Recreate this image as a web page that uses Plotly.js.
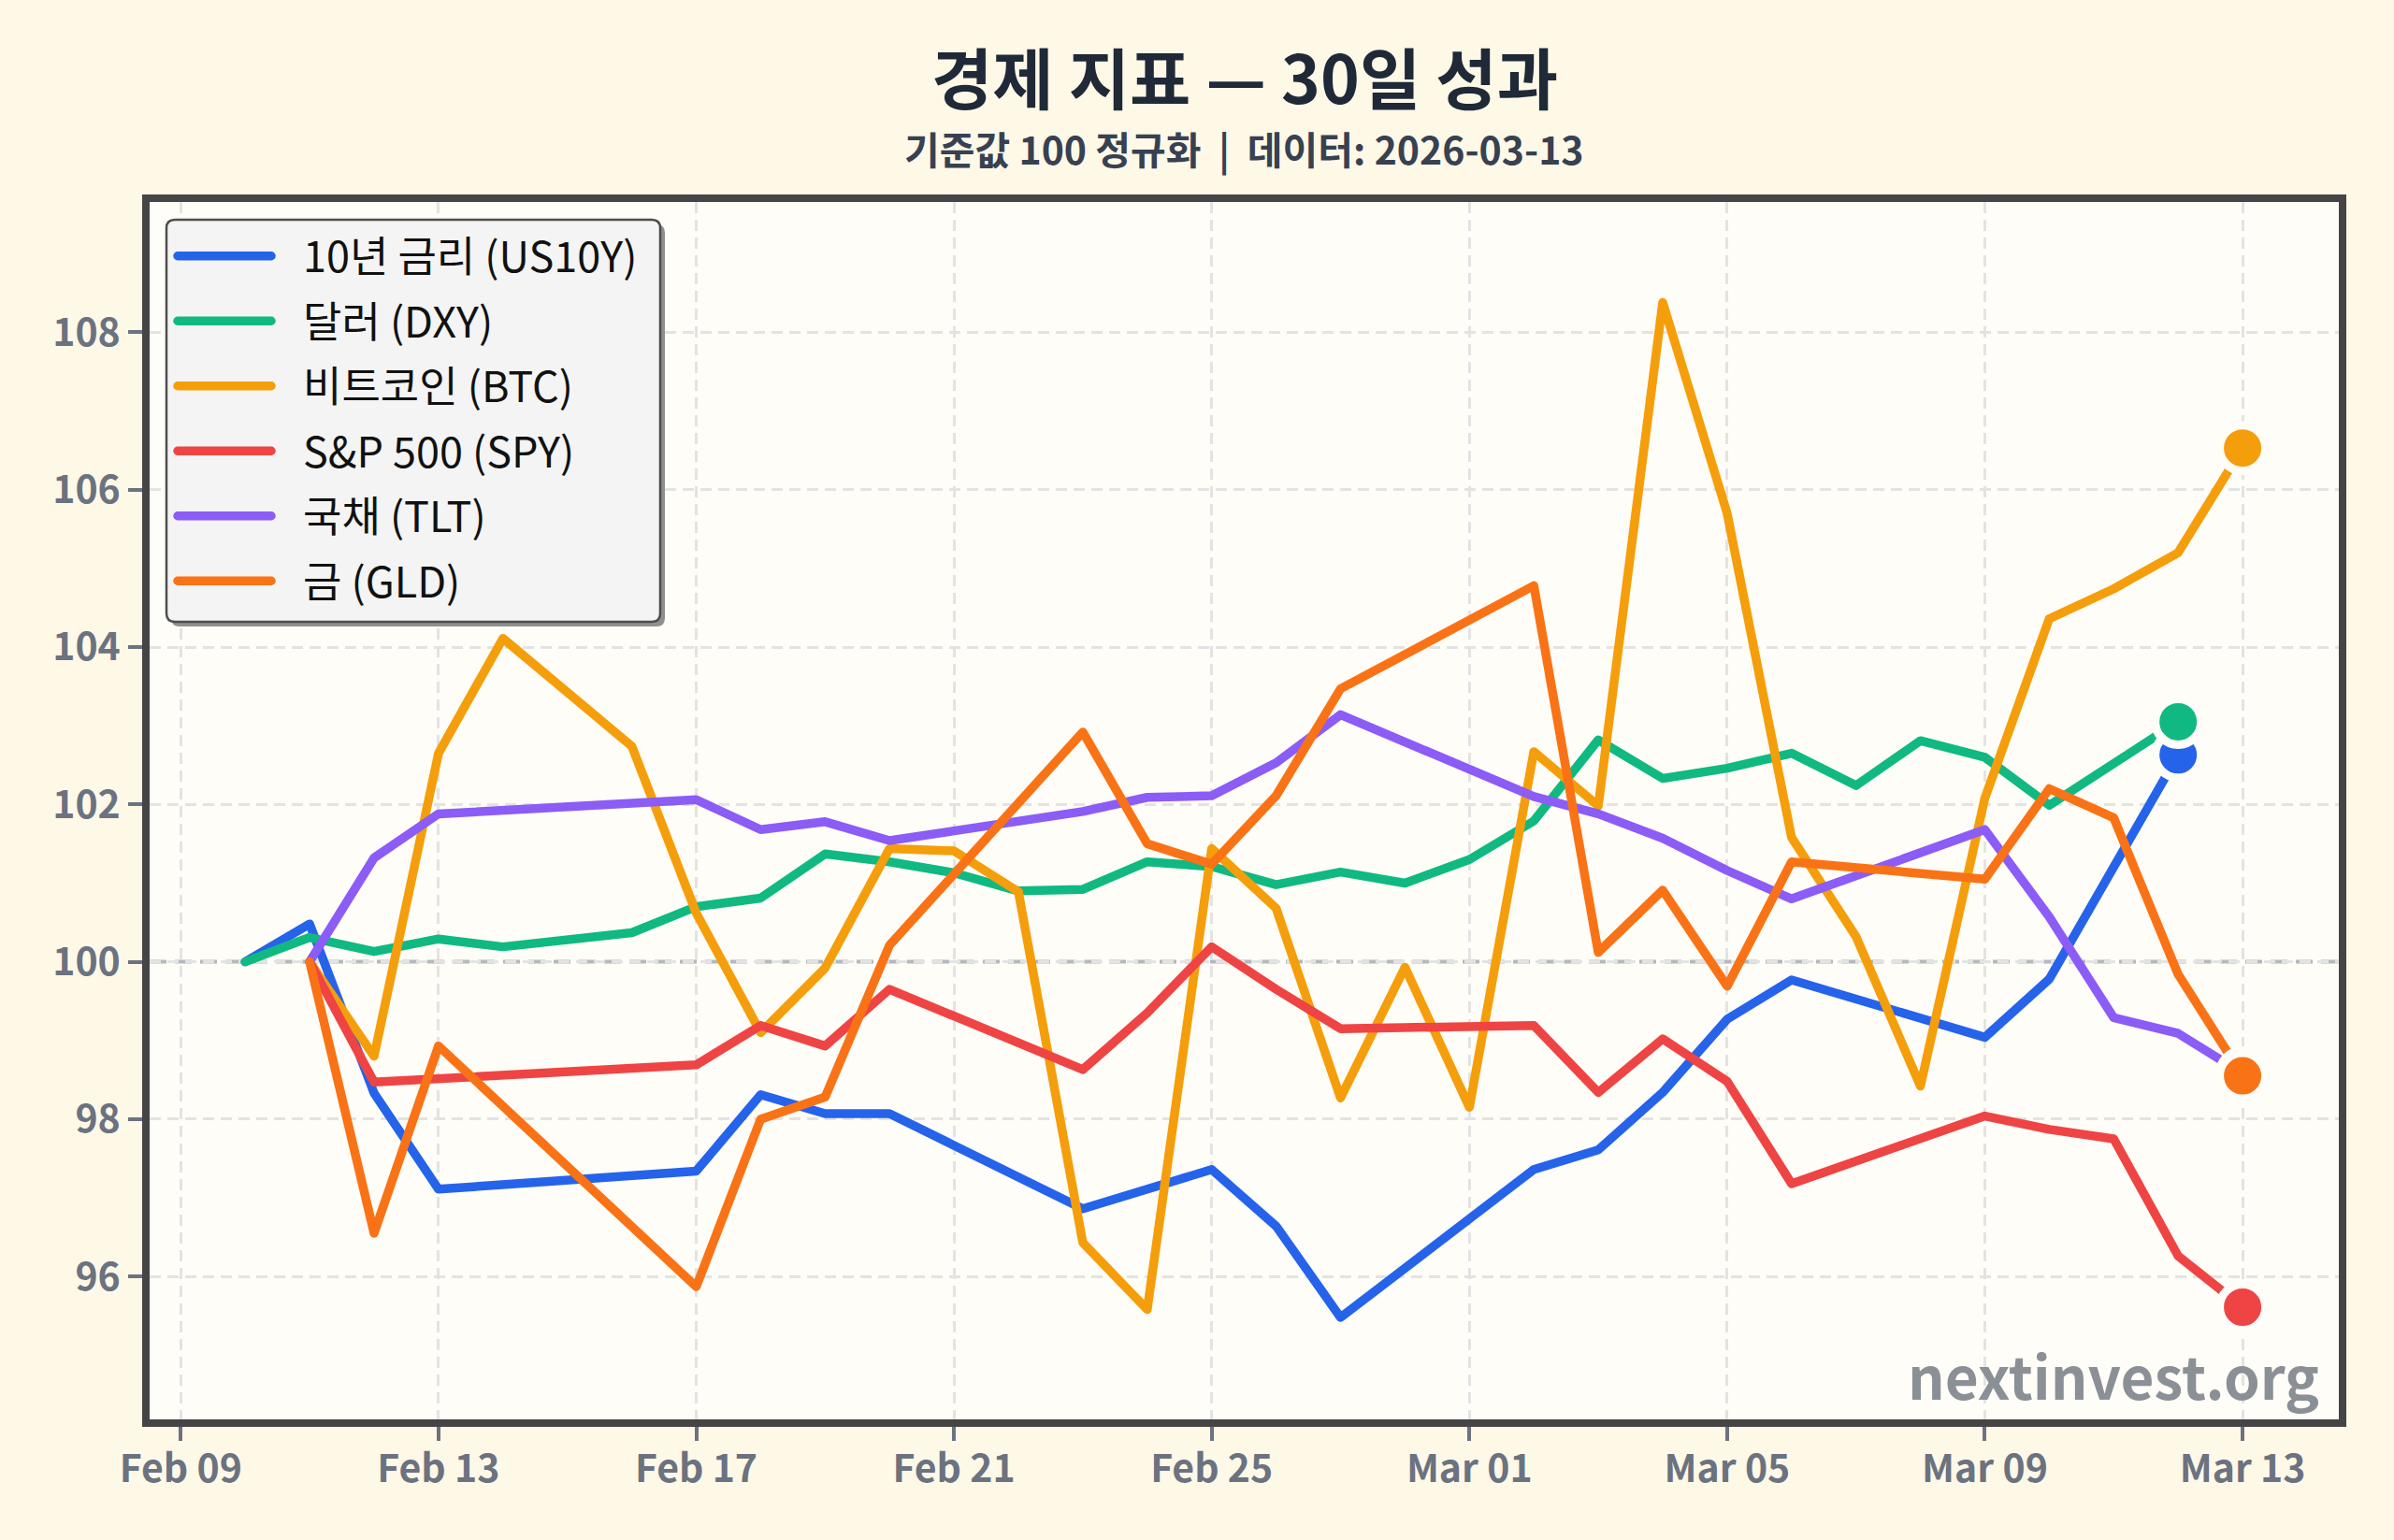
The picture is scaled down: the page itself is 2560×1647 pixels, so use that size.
<!DOCTYPE html>
<html>
<head>
<meta charset="utf-8">
<script src="https://cdn.plot.ly/plotly-3.0.1.min.js"></script>
<style>
  html, body { margin: 0; padding: 0; background: #fef8e7; }
  #chart { width: 2560px; height: 1647px; }
  .scatterlayer .js-line { stroke-linejoin: round; stroke-linecap: round; }
  .legend .legendlines path { stroke-linecap: round; }
  .legend .scrollbox { clip-path: none !important; }
  .legend .legendtext { transform: translate(29px, 0px); }
</style>
</head>
<body>
<div id="chart"></div>
<script>
// Normalised performance (base = 100) of six market indicators over 30 days
const seriesNames = ['10년 금리 (US10Y)', '달러 (DXY)', '비트코인 (BTC)', 'S&P 500 (SPY)', '국채 (TLT)', '금 (GLD)'];
const seriesColors = ['#2563eb', '#10b981', '#f59e0b', '#ef4444', '#8b5cf6', '#f97316'];

const us10yDates = ['2026-02-10','2026-02-11','2026-02-12','2026-02-13','2026-02-17','2026-02-18','2026-02-19','2026-02-20','2026-02-23','2026-02-25','2026-02-26','2026-02-27','2026-03-02','2026-03-03','2026-03-04','2026-03-05','2026-03-06','2026-03-09','2026-03-10','2026-03-12'];
const us10yValues = [100, 100.48, 98.33, 97.11, 97.34, 98.31, 98.07, 98.07, 96.86, 97.36, 96.64, 95.48, 97.36, 97.61, 98.34, 99.27, 99.77, 99.04, 99.78, 102.63];

const dxyDates = ['2026-02-10','2026-02-11','2026-02-12','2026-02-13','2026-02-14','2026-02-16','2026-02-17','2026-02-18','2026-02-19','2026-02-20','2026-02-21','2026-02-22','2026-02-23','2026-02-24','2026-02-25','2026-02-26','2026-02-27','2026-02-28','2026-03-01','2026-03-02','2026-03-03','2026-03-04','2026-03-05','2026-03-06','2026-03-07','2026-03-08','2026-03-09','2026-03-10','2026-03-12'];
const dxyValues = [100, 100.31, 100.13, 100.29, 100.19, 100.37, 100.70, 100.81, 101.37, 101.27, 101.13, 100.90, 100.92, 101.27, 101.21, 100.98, 101.14, 101.00, 101.30, 101.79, 102.82, 102.33, 102.46, 102.65, 102.24, 102.81, 102.60, 101.99, 103.05];

const btcDates = ['2026-02-11','2026-02-12','2026-02-13','2026-02-14','2026-02-16','2026-02-17','2026-02-18','2026-02-19','2026-02-20','2026-02-21','2026-02-22','2026-02-23','2026-02-24','2026-02-25','2026-02-26','2026-02-27','2026-02-28','2026-03-01','2026-03-02','2026-03-03','2026-03-04','2026-03-05','2026-03-06','2026-03-07','2026-03-08','2026-03-09','2026-03-10','2026-03-11','2026-03-12','2026-03-13'];
const btcValues = [100, 98.80, 102.65, 104.11, 102.74, 100.62, 99.10, 99.92, 101.44, 101.41, 100.89, 96.43, 95.58, 101.44, 100.68, 98.27, 99.93, 98.15, 102.67, 101.98, 108.38, 105.70, 101.58, 100.32, 98.42, 102.08, 104.36, 104.74, 105.20, 106.53];

const spyDates = ['2026-02-11','2026-02-12','2026-02-17','2026-02-18','2026-02-19','2026-02-20','2026-02-23','2026-02-24','2026-02-25','2026-02-26','2026-02-27','2026-03-02','2026-03-03','2026-03-04','2026-03-05','2026-03-06','2026-03-09','2026-03-10','2026-03-11','2026-03-12','2026-03-13'];
const spyValues = [100, 98.47, 98.69, 99.19, 98.93, 99.65, 98.63, 99.35, 100.19, 99.65, 99.15, 99.19, 98.34, 99.02, 98.48, 97.18, 98.04, 97.87, 97.75, 96.26, 95.61];

const tltDates = ['2026-02-11','2026-02-12','2026-02-13','2026-02-17','2026-02-18','2026-02-19','2026-02-20','2026-02-23','2026-02-24','2026-02-25','2026-02-26','2026-02-27','2026-03-02','2026-03-03','2026-03-04','2026-03-05','2026-03-06','2026-03-09','2026-03-10','2026-03-11','2026-03-12','2026-03-13'];
const tltValues = [100, 101.32, 101.88, 102.06, 101.68, 101.78, 101.54, 101.91, 102.09, 102.11, 102.53, 103.14, 102.10, 101.88, 101.57, 101.16, 100.80, 101.68, 100.57, 99.29, 99.09, 98.58];

const gldDates = ['2026-02-11','2026-02-12','2026-02-13','2026-02-17','2026-02-18','2026-02-19','2026-02-20','2026-02-23','2026-02-24','2026-02-25','2026-02-26','2026-02-27','2026-03-02','2026-03-03','2026-03-04','2026-03-05','2026-03-06','2026-03-09','2026-03-10','2026-03-11','2026-03-12','2026-03-13'];
const gldValues = [100, 96.55, 98.93, 95.87, 98.00, 98.28, 100.21, 102.92, 101.50, 101.24, 102.11, 103.47, 104.78, 100.12, 100.91, 99.69, 101.27, 101.05, 102.20, 101.83, 99.84, 98.55];

const baseValue = 100;
const titleText = '경제 지표 — 30일 성과';
const subtitleText = '기준값 100 정규화  |  데이터: 2026-03-13';
const watermarkText = 'nextinvest.org';

const allDates = [us10yDates, dxyDates, btcDates, spyDates, tltDates, gldDates];
const allValues = [us10yValues, dxyValues, btcValues, spyValues, tltValues, gldValues];

// Plot-area geometry in page pixels (used for paper-coordinate helpers)
const W = 2560, H = 1647;
const AREA = { l: 160, r: 2501, t: 216, b: 1518 };
const px = X => (X - AREA.l) / (AREA.r - AREA.l);
const py = Y => (AREA.b - Y) / (AREA.b - AREA.t);

const FONT = '"Noto Sans CJK KR", "Noto Sans", sans-serif';
const PAPER_BG = '#fef8e7';
const PLOT_BG = '#fffdf7';
const TICK_GRAY = '#6b7280';

const traces = [];
// lines first
for (let i = 0; i < seriesNames.length; i++) {
  traces.push({
    type: 'scatter', mode: 'lines',
    x: allDates[i], y: allValues[i],
    name: seriesNames[i], legendgroup: 'g' + i,
    line: { color: seriesColors[i], width: 9.5 },
    hoverinfo: 'skip'
  });
}
// end-point markers on top of all lines
for (let i = 0; i < seriesNames.length; i++) {
  const n = allDates[i].length;
  traces.push({
    type: 'scatter', mode: 'markers',
    x: [allDates[i][n - 1]], y: [allValues[i][n - 1]],
    showlegend: false, hoverinfo: 'skip',
    marker: { color: seriesColors[i], size: 49, line: { color: PLOT_BG, width: 9 } }
  });
}

function roundedRect(X0, Y0, X1, Y1, r) {
  const x0 = px(X0), x1 = px(X1), y0 = py(Y0), y1 = py(Y1);
  const rx = r / (AREA.r - AREA.l), ry = r / (AREA.b - AREA.t);
  return `M${x0 + rx},${y0} L${x1 - rx},${y0} Q${x1},${y0} ${x1},${y0 - ry} ` +
         `L${x1},${y1 + ry} Q${x1},${y1} ${x1 - rx},${y1} L${x0 + rx},${y1} ` +
         `Q${x0},${y1} ${x0},${y1 + ry} L${x0},${y0 - ry} Q${x0},${y0} ${x0 + rx},${y0} Z`;
}

const legendBox = { X0: 178, Y0: 235, X1: 706, Y1: 665 };

const axisCommon = {
  showgrid: true, gridcolor: '#e3e3e3', gridwidth: 3, griddash: '12px,7px',
  showline: true, linecolor: '#454545', linewidth: 8, mirror: true,
  ticks: 'outside', ticklen: 15, tickwidth: 4, tickcolor: TICK_GRAY,
  tickfont: { family: FONT, size: 41, color: TICK_GRAY, weight: 'bold' },
  zeroline: false, fixedrange: true
};

const layout = {
  width: W, height: H,
  paper_bgcolor: PAPER_BG, plot_bgcolor: PLOT_BG,
  margin: { l: AREA.l, r: W - AREA.r, t: AREA.t, b: H - AREA.b, pad: 0 },
  font: { family: FONT },
  showlegend: true,
  legend: {
    x: px(185), y: py(238), xanchor: 'left', yanchor: 'top',
    bgcolor: 'rgba(0,0,0,0)', borderwidth: 0,
    font: { family: FONT, size: 45, color: '#111111' },
    itemwidth: 100, tracegroupgap: 8
  },
  xaxis: Object.assign({}, axisCommon, {
    type: 'date',
    range: ['2026-02-08 12:24', '2026-03-14 11:51'],
    tick0: '2026-02-09', dtick: 4 * 86400000, tickformat: '%b %d',
    ticklabelstandoff: -5
  }),
  yaxis: Object.assign({}, axisCommon, {
    range: [94.184, 109.657],
    tick0: 96, dtick: 2
  }),
  shapes: [
    { type: 'line', xref: 'paper', x0: 0, x1: 1, yref: 'y', y0: baseValue, y1: baseValue,
      layer: 'between', line: { color: '#b3b8c0', width: 4, dash: '18px,9px' } },
    { type: 'path', xref: 'paper', yref: 'paper', layer: 'above',
      path: roundedRect(legendBox.X0 + 5, legendBox.Y0 + 5, legendBox.X1 + 5, legendBox.Y1 + 5, 9),
      fillcolor: '#8f8f8f', line: { width: 0 } },
    { type: 'path', xref: 'paper', yref: 'paper', layer: 'above',
      path: roundedRect(legendBox.X0, legendBox.Y0, legendBox.X1, legendBox.Y1, 9),
      fillcolor: '#f4f4f4', line: { color: '#4d4d4d', width: 2.5 } }
  ],
  annotations: [
    { text: titleText, xref: 'paper', yref: 'paper', x: 0.5, y: py(80), xanchor: 'center', yanchor: 'middle',
      showarrow: false, font: { family: FONT, size: 71, color: '#1f2937', weight: 'bold' } },
    { text: subtitleText, xref: 'paper', yref: 'paper', x: 0.5, y: py(158), xanchor: 'center', yanchor: 'middle',
      showarrow: false, font: { family: FONT, size: 41, color: '#374151', weight: 'bold' } },
    { text: watermarkText, xref: 'paper', yref: 'paper', x: px(2482), y: py(1470), xanchor: 'right', yanchor: 'middle',
      showarrow: false, font: { family: FONT, size: 62, color: '#8b9096', weight: 'bold' } }
  ]
};

Plotly.newPlot('chart', traces, layout, { staticPlot: true, displayModeBar: false });
</script>
</body>
</html>
